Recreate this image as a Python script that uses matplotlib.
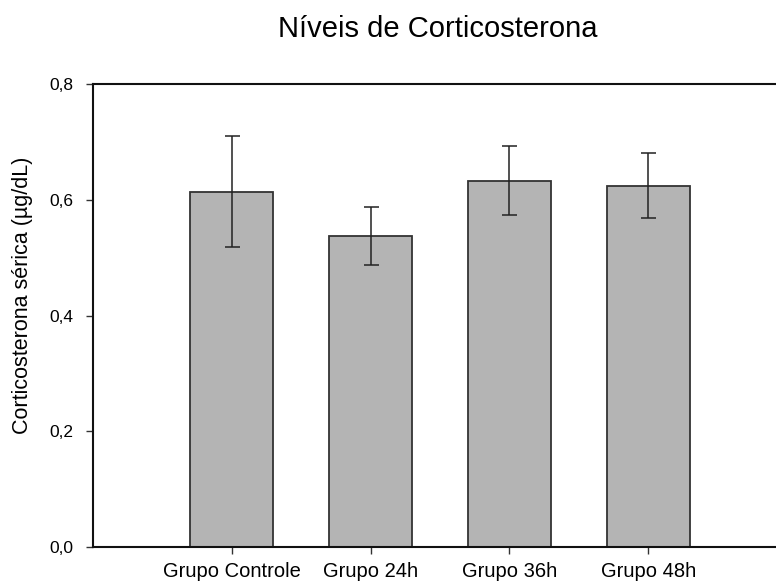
import matplotlib
matplotlib.use("Agg")
import matplotlib.pyplot as plt
import numpy as np

categories = ["Grupo Controle", "Grupo 24h", "Grupo 36h", "Grupo 48h"]
means = [0.614, 0.537, 0.633, 0.624]
errors = [0.096, 0.050, 0.060, 0.056]
yticks = [0.0, 0.2, 0.4, 0.6, 0.8]
ytick_labels = ["0,0", "0,2", "0,4", "0,6", "0,8"]

plt.rcParams['font.family'] = ['Liberation Sans', 'DejaVu Sans']

fig = plt.figure(figsize=(7.76, 5.85), dpi=100)
ax = fig.add_axes([93/776, 38/585, (776-93)/776, (547-84)/585])

x = np.arange(len(categories))
ax.bar(x, means, width=0.6, color="#b4b4b4", edgecolor="#333333", linewidth=1.3, zorder=2)
ax.errorbar(x, means, yerr=errors, fmt="none", ecolor="#222222", elinewidth=1.1,
            capsize=5.4, capthick=1.1, zorder=3)

ax.set_xlim(-1, 3.92)
ax.set_ylim(0, 0.8)
ax.set_yticks(yticks)
ax.set_yticklabels(ytick_labels, fontsize=12.5)
ax.set_xticks(x)
ax.set_xticklabels(categories, fontsize=14.5)
ax.tick_params(axis="both", direction="out", length=5, width=1, color="#333333")
ax.tick_params(axis="y", pad=9)
ax.tick_params(axis="x", pad=5.5)

ax.spines["right"].set_visible(False)
for s in ["top", "left", "bottom"]:
    ax.spines[s].set_linewidth(1.5)
    ax.spines[s].set_color("#111111")

ax.set_ylabel("Corticosterona sérica (µg/dL)", fontsize=15.5)
ax.yaxis.set_label_coords(33/776, 1 - 295.5/585, transform=fig.transFigure)
fig.text(438/776, 1 - 37/585, "Níveis de Corticosterona", fontsize=21,
         ha="center", va="baseline")

fig.savefig("out.png", dpi=100)
